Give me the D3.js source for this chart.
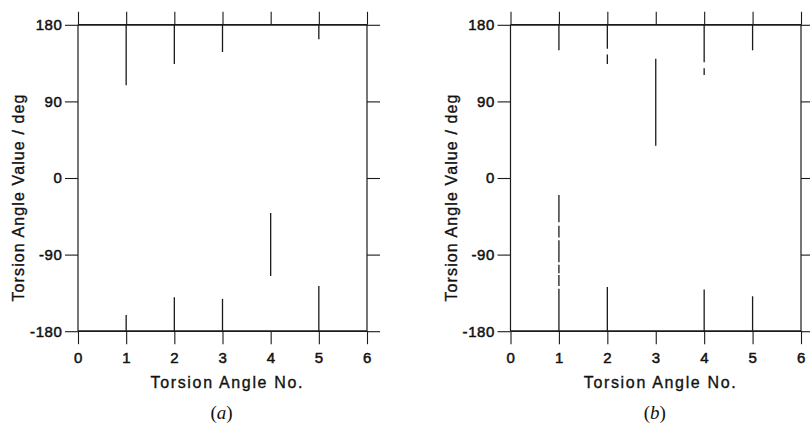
<!DOCTYPE html>
<html>
<head>
<meta charset="utf-8">
<script src="https://cdn.jsdelivr.net/npm/d3@7"></script>
<style>
  body { margin: 0; background: #fff; }
  svg { display: block; }
  text { fill: #111; }
</style>
</head>
<body>
<svg id="chart" width="810" height="424"></svg>
<script>
// ---- data ----
const xTicks = [0, 1, 2, 3, 4, 5, 6];
const yTicks = [-180, -90, 0, 90, 180];
const xTitle = "Torsion Angle No.";
const yTitle = "Torsion Angle Value / deg";

// Panel (a): ranges of torsion-angle values observed per torsion angle
const panelATorsion = [1, 1, 2, 2, 3, 3, 4, 5, 5];
const panelALow     = [109, -180, 134, -180, 148, -180, -115, 163, -180];
const panelAHigh    = [180, -161, 180, -140, 180, -142, -41, 180, -127];

// Panel (b)
const panelBTorsion = [1, 1, 1, 1, 1, 1, 1, 2, 2, 2, 3, 4, 4, 4, 5, 5];
const panelBLow     = [150, -52, -70, -99, -112, -127, -180, 152, 134, -180, 38, 136, 121, -180, 150, -180];
const panelBHigh    = [180, -20, -56, -73, -102, -114, -130, 180, 145, -128, 140, 180, 129, -131, 180, -139];

const panels = [
  { label: "a", torsion: panelATorsion, low: panelALow, high: panelAHigh, x0: 78, x1: 367 },
  { label: "b", torsion: panelBTorsion, low: panelBLow, high: panelBHigh, x0: 510.5, x1: 801 }
];

const svg = d3.select("#chart");
const ink = "#1a1a1a";
const yTop = 24.8, yBot = 331.2;
const plainFmt = d => String(d);   // ASCII hyphen-minus, as in the original

panels.forEach(p => {
  const x = d3.scaleLinear().domain([0, 6]).range([p.x0, p.x1]);
  const y = d3.scaleLinear().domain([-180, 180]).range([yBot, yTop]);
  const g = svg.append("g");

  const styleAxis = sel => {
    sel.select(".domain").remove();
    sel.selectAll(".tick line").attr("stroke", ink).attr("stroke-width", 1.1);
    sel.selectAll(".tick text")
      .attr("fill", "#111")
      .style("font-family", "'Liberation Sans', Arial, sans-serif")
      .style("font-size", "15px")
      .style("letter-spacing", "0.6px")
      .attr("stroke", "#111").attr("stroke-width", 0.5);
  };
  g.append("g").attr("transform", `translate(${p.x0},0)`)
    .call(d3.axisLeft(y).tickValues(yTicks).tickSize(13).tickPadding(2.5).tickFormat(plainFmt))
    .call(styleAxis);
  g.append("g").attr("transform", `translate(${p.x1},0)`)
    .call(d3.axisRight(y).tickValues(yTicks).tickSize(13).tickFormat(""))
    .call(styleAxis);
  g.append("g").attr("transform", `translate(0,${yTop})`)
    .call(d3.axisTop(x).tickValues(xTicks).tickSize(13).tickFormat(""))
    .call(styleAxis);
  g.append("g").attr("transform", `translate(0,${yBot})`)
    .call(d3.axisBottom(x).tickValues(xTicks).tickSize(13).tickPadding(8).tickFormat(plainFmt))
    .call(styleAxis);

  // frame
  g.append("line").attr("x1", p.x0).attr("x2", p.x1).attr("y1", y(180)).attr("y2", y(180))
    .attr("stroke", ink).attr("stroke-width", 1.8);
  g.append("line").attr("x1", p.x0).attr("x2", p.x1).attr("y1", y(-180)).attr("y2", y(-180))
    .attr("stroke", ink).attr("stroke-width", 1.8);
  g.append("line").attr("x1", p.x0).attr("x2", p.x0).attr("y1", y(180)).attr("y2", y(-180))
    .attr("stroke", ink).attr("stroke-width", 1.2);
  g.append("line").attr("x1", p.x1).attr("x2", p.x1).attr("y1", y(180)).attr("y2", y(-180))
    .attr("stroke", ink).attr("stroke-width", 1.2);

  // data range segments
  g.selectAll("line.seg").data(p.torsion.map((t, i) => ({ t, lo: p.low[i], hi: p.high[i] })))
    .join("line").attr("class", "seg")
    .attr("x1", d => x(d.t)).attr("x2", d => x(d.t))
    .attr("y1", d => y(d.hi)).attr("y2", d => y(d.lo))
    .attr("stroke", ink).attr("stroke-width", 1.3);

  // titles
  const cx = (p.x0 + p.x1) / 2;
  g.append("text")
    .attr("x", cx + 4).attr("y", 388)
    .attr("text-anchor", "middle")
    .attr("textLength", 152).attr("lengthAdjust", "spacing")
    .style("font-family", "'Liberation Sans', Arial, sans-serif")
    .style("font-size", "16px")
    .attr("stroke", "#111").attr("stroke-width", 0.35)
    .text(xTitle);

  g.append("text")
    .attr("transform", `translate(${p.x0 - 54},${(yTop + yBot) / 2 + 20}) rotate(-90)`)
    .attr("text-anchor", "middle")
    .attr("textLength", 207).attr("lengthAdjust", "spacing")
    .style("font-family", "'Liberation Sans', Arial, sans-serif")
    .style("font-size", "16px")
    .attr("stroke", "#111").attr("stroke-width", 0.35)
    .text(yTitle);

  const cap = g.append("text")
    .attr("x", cx - 1).attr("y", 419)
    .attr("text-anchor", "middle")
    .style("font-family", "'Liberation Serif', 'DejaVu Serif', serif")
    .style("font-size", "19px");
  cap.append("tspan").text("(");
  cap.append("tspan").style("font-style", "italic").text(p.label);
  cap.append("tspan").text(")");
});
</script>
</body>
</html>
